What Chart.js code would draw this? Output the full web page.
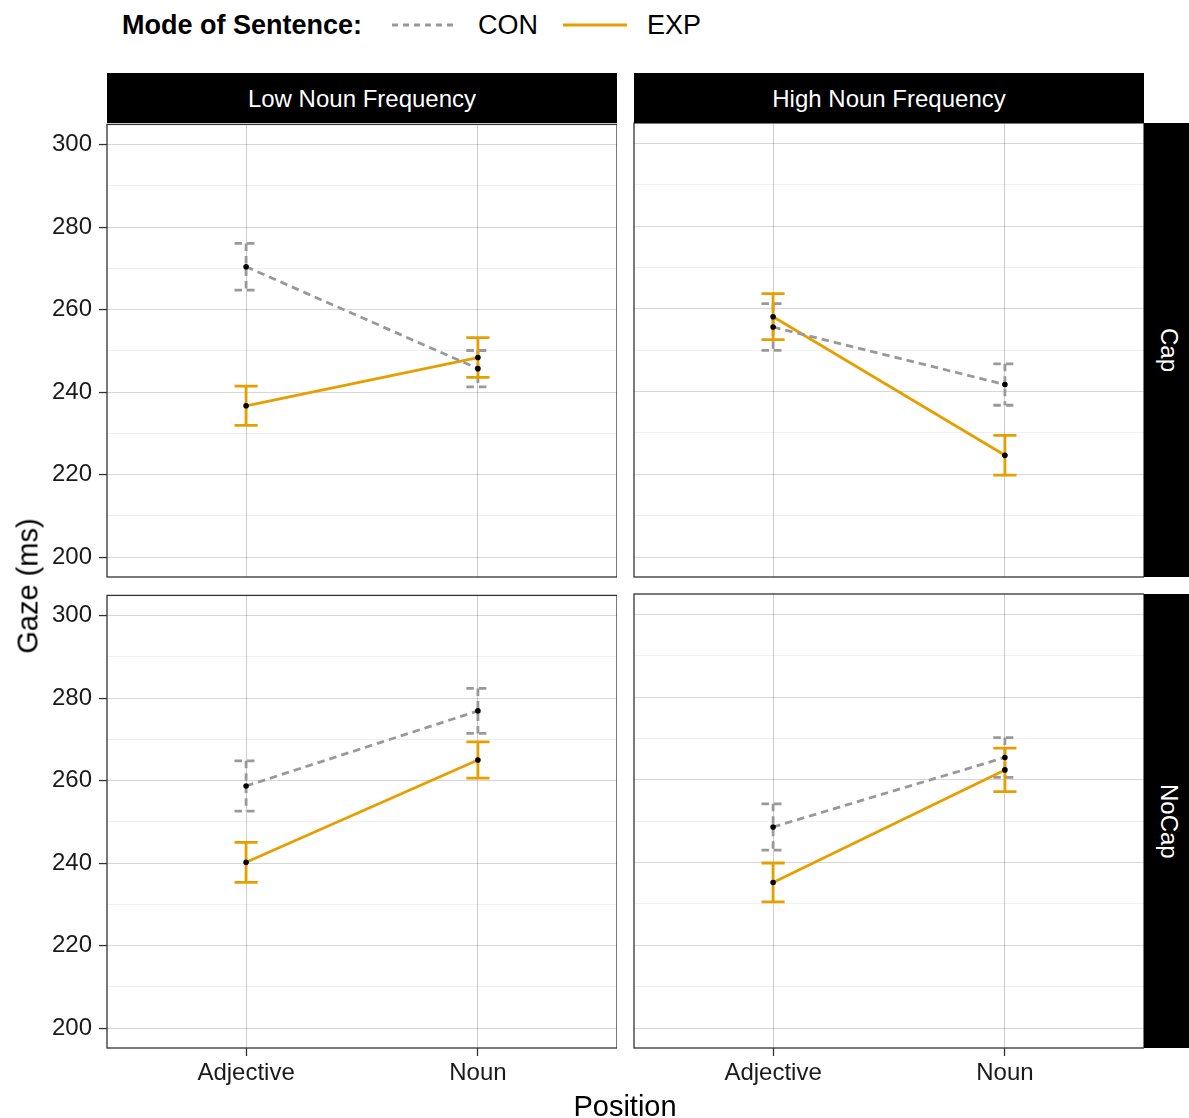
<!DOCTYPE html>
<html lang="en">
<head>
<meta charset="UTF-8">
<title>Gaze by Position</title>
<script src="https://cdn.jsdelivr.net/npm/chart.js"></script>
<style>
  body { margin: 0; width: 1189px; height: 1118px; position: relative; overflow: hidden; background: #fff; font-family: "Liberation Sans", Arial, sans-serif; color: #000; }
  .abs { position: absolute; white-space: nowrap; }
  .strip { position: absolute; background: #000; color: #fff; font-size: 24px; display: flex; align-items: center; justify-content: center; padding-top: 1px; box-sizing: border-box; }
  .strip.side { writing-mode: vertical-rl; padding-top: 0; }
  canvas { position: absolute; }
</style>
</head>
<body>
<div class="abs" style="left:122px; top:11px; font-size:27px; line-height:28px; font-weight:bold;">Mode of Sentence:</div>
<svg class="abs" style="left:392px; top:15px;" width="66" height="20"><line x1="0" y1="10" x2="66" y2="10" stroke="#999999" stroke-width="2.8" stroke-dasharray="6 5"/></svg>
<div class="abs" style="left:478px; top:11px; font-size:27px; line-height:28px;">CON</div>
<svg class="abs" style="left:563px; top:15px;" width="64" height="20"><line x1="0" y1="10" x2="64" y2="10" stroke="#E69F00" stroke-width="2.8"/></svg>
<div class="abs" style="left:647px; top:11px; font-size:27px; line-height:28px;">EXP</div>

<div id="plots"></div>

<div class="abs" style="left:28px; top:586px; font-size:29px; transform: translate(-50%, -50%) rotate(-90deg);">Gaze (ms)</div>
<div class="abs" style="left:625px; top:1106px; font-size:29px; transform: translate(-50%, -50%);">Position</div>

<script>
// categories
const positions = ['Adjective', 'Noun'];
const freqLabels = ['Low Noun Frequency', 'High Noun Frequency'];
const capLabels = ['Cap', 'NoCap'];

// y ticks (grid every 10, labels every 20)
const yGrid = [200, 210, 220, 230, 240, 250, 260, 270, 280, 290, 300];
const yLabels = [200, 220, 240, 260, 280, 300];

// means and error half-widths, per panel
const conLowCap = [270.4, 245.7];
const conLowCapErr = [5.65, 4.4];
const expLowCap = [236.7, 248.4];
const expLowCapErr = [4.75, 4.8];

const conHighCap = [255.6, 241.7];
const conHighCapErr = [5.65, 5.0];
const expHighCap = [258.1, 224.6];
const expHighCapErr = [5.55, 4.8];

const conLowNoCap = [258.7, 276.9];
const conLowNoCapErr = [6.1, 5.45];
const expLowNoCap = [240.2, 265.0];
const expLowNoCapErr = [4.85, 4.4];

const conHighNoCap = [248.6, 265.4];
const conHighNoCapErr = [5.6, 4.8];
const expHighNoCap = [235.2, 262.4];
const expHighNoCapErr = [4.7, 5.25];

const FONT = "'Liberation Sans', Arial, sans-serif";
Chart.defaults.font.family = FONT;

const YW = 80, XH = 50, PT = 20;
const colX = [107, 634], rowY = [123, 594];
const PW = 510, PH = 454;
const capHalf = 0.05;

const errorBars = {
  id: 'errorBars',
  beforeDatasetsDraw(chart) {
    const { ctx, scales: { x, y } } = chart;
    chart.data.datasets.forEach(ds => {
      ctx.save();
      ctx.strokeStyle = ds.borderColor;
      ctx.lineWidth = ds.borderWidth;
      ctx.setLineDash(ds.borderDash || []);
      ds.data.forEach((pt, i) => {
        const e = ds.errHalf[i];
        const xc = x.getPixelForValue(pt.x);
        const xl = x.getPixelForValue(pt.x - capHalf);
        const xr = x.getPixelForValue(pt.x + capHalf);
        const yt = y.getPixelForValue(pt.y + e);
        const yb = y.getPixelForValue(pt.y - e);
        ctx.beginPath();
        ctx.moveTo(xl, yt); ctx.lineTo(xr, yt);
        ctx.moveTo(xc, yt); ctx.lineTo(xc, yb);
        ctx.moveTo(xl, yb); ctx.lineTo(xr, yb);
        ctx.stroke();
      });
      ctx.restore();
    });
  }
};

const panelBorder = {
  id: 'panelBorder',
  afterDraw(chart) {
    const { ctx, chartArea: a } = chart;
    ctx.save();
    ctx.strokeStyle = '#333333';
    ctx.lineWidth = 1.3;
    ctx.strokeRect(a.left, a.top, a.right - a.left, a.bottom - a.top);
    ctx.restore();
  }
};

function series(label, vals, errs, color, dash) {
  return {
    label: label,
    data: vals.map((v, i) => ({ x: i + 1, y: v })),
    errHalf: errs,
    borderColor: color,
    borderWidth: 2.8,
    borderDash: dash,
    pointRadius: 2.8,
    pointBackgroundColor: '#000',
    pointBorderWidth: 0,
    fill: false,
    tension: 0
  };
}

function makePanel(row, col, con, conErr, exp, expErr) {
  const showX = row === 1, showY = col === 0;
  const canvas = document.createElement('canvas');
  canvas.width = PW + YW;
  canvas.height = PH + PT + XH;
  canvas.style.width = canvas.width + 'px';
  canvas.style.height = canvas.height + 'px';
  canvas.style.left = (colX[col] - YW) + 'px';
  canvas.style.top = (rowY[row] - PT) + 'px';
  document.getElementById('plots').appendChild(canvas);

  new Chart(canvas, {
    type: 'line',
    data: {
      datasets: [
        series('CON', con, conErr, '#999999', [7.5, 5]),
        series('EXP', exp, expErr, '#E69F00', [])
      ]
    },
    plugins: [errorBars, panelBorder],
    options: {
      responsive: false,
      animation: false,
      devicePixelRatio: 1,
      layout: { autoPadding: false, padding: { top: PT, left: 0, right: 0, bottom: 0 } },
      plugins: { legend: { display: false }, tooltip: { enabled: false } },
      scales: {
        x: {
          type: 'linear', min: 0.4, max: 2.6,
          afterBuildTicks: s => { s.ticks = positions.map((_, i) => ({ value: i + 1 })); },
          afterFit: s => { s.height = XH; },
          ticks: {
            display: showX, autoSkip: false, maxRotation: 0, padding: 3,
            color: '#1a1a1a', font: { size: 24 },
            callback: v => positions[Math.round(v) - 1] || ''
          },
          grid: { color: 'rgba(0,0,0,0.2)', lineWidth: 1, drawTicks: showX, tickLength: 8, tickColor: '#333', tickWidth: 1.3 },
          border: { display: false }
        },
        y: {
          min: 195.2, max: 304.9,
          afterBuildTicks: s => { s.ticks = yGrid.map(v => ({ value: v })); },
          afterFit: s => { s.width = YW; },
          ticks: {
            display: showY, autoSkip: false, padding: 7,
            color: '#1a1a1a', font: { size: 24 },
            callback: v => yLabels.includes(v) ? String(v) : ''
          },
          grid: {
            color: c => yLabels.includes(c.tick.value) ? 'rgba(0,0,0,0.16)' : 'rgba(0,0,0,0.08)',
            lineWidth: c => yLabels.includes(c.tick.value) ? 1.1 : 0.8,
            drawTicks: showY, tickLength: 8, tickWidth: 1.3,
            tickColor: c => yLabels.includes(c.tick.value) ? '#333' : 'rgba(0,0,0,0)'
          },
          border: { display: false }
        }
      }
    }
  });
}

makePanel(0, 0, conLowCap, conLowCapErr, expLowCap, expLowCapErr);
makePanel(0, 1, conHighCap, conHighCapErr, expHighCap, expHighCapErr);
makePanel(1, 0, conLowNoCap, conLowNoCapErr, expLowNoCap, expLowNoCapErr);
makePanel(1, 1, conHighNoCap, conHighNoCapErr, expHighNoCap, expHighNoCapErr);

// facet strips
const plots = document.getElementById('plots');
freqLabels.forEach((t, i) => {
  const d = document.createElement('div');
  d.className = 'strip';
  d.style.left = colX[i] + 'px';
  d.style.top = '73px';
  d.style.width = PW + 'px';
  d.style.height = '50px';
  d.textContent = t;
  plots.appendChild(d);
});
capLabels.forEach((t, i) => {
  const d = document.createElement('div');
  d.className = 'strip side';
  d.style.left = (colX[1] + PW) + 'px';
  d.style.top = rowY[i] + 'px';
  d.style.width = '50px';
  d.style.height = PH + 'px';
  d.textContent = t;
  plots.appendChild(d);
});
</script>
</body>
</html>
